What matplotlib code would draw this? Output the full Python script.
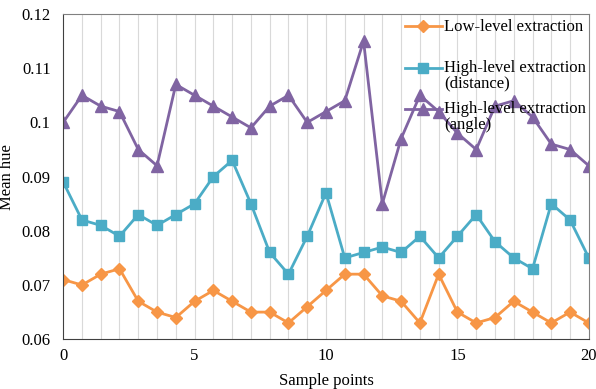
import numpy as np
import matplotlib
matplotlib.use('Agg')
import matplotlib.pyplot as plt
from matplotlib.ticker import FuncFormatter
from matplotlib.legend_handler import HandlerLine2D

plt.rcParams['font.family'] = ['Liberation Serif', 'DejaVu Serif']

# Mean hue per sample point (29 samples spread over 0..20)
low_level = [0.071, 0.070, 0.072, 0.073, 0.067, 0.065, 0.064, 0.067, 0.069, 0.067,
             0.065, 0.065, 0.063, 0.066, 0.069, 0.072, 0.072, 0.068, 0.067, 0.063,
             0.072, 0.065, 0.063, 0.064, 0.067, 0.065, 0.063, 0.065, 0.063]
high_distance = [0.089, 0.082, 0.081, 0.079, 0.083, 0.081, 0.083, 0.085, 0.090, 0.093,
                 0.085, 0.076, 0.072, 0.079, 0.087, 0.075, 0.076, 0.077, 0.076, 0.079,
                 0.075, 0.079, 0.083, 0.078, 0.075, 0.073, 0.085, 0.082, 0.075]
high_angle = [0.100, 0.105, 0.103, 0.102, 0.095, 0.092, 0.107, 0.105, 0.103, 0.101,
              0.099, 0.103, 0.105, 0.100, 0.102, 0.104, 0.115, 0.085, 0.097, 0.105,
              0.102, 0.098, 0.095, 0.103, 0.104, 0.101, 0.096, 0.095, 0.092]
# blank second line keeps every legend entry the same height, like Excel does
labels = ['Low-level extraction\n ', 'High-level extraction\n(distance)',
          'High-level extraction\n(angle)']

x = np.linspace(0, 20, len(low_level))


class FirstLineHandler(HandlerLine2D):
    # put the legend line next to the first text line instead of the middle
    def create_artists(self, legend, orig_handle, xdescent, ydescent, width,
                       height, fontsize, trans):
        artists = super().create_artists(legend, orig_handle, xdescent, ydescent,
                                         width, height, fontsize, trans)
        for a in artists:
            a.set_ydata(np.asarray(a.get_ydata()) + 0.5 * fontsize)
        return artists


fig = plt.figure(figsize=(5.96, 3.89), dpi=100)
ax = fig.add_axes([0.106, 0.128, 0.882, 0.836])

ax.plot(x, low_level, color='#F79646', marker='D', markersize=6, linewidth=2, label=labels[0])
ax.plot(x, high_distance, color='#4BACC6', marker='s', markersize=7, linewidth=2, label=labels[1])
ax.plot(x, high_angle, color='#8064A2', marker='^', markersize=8, linewidth=2, label=labels[2])

for xi in x[1:-1]:
    ax.axvline(xi, color='#D9D9D9', linewidth=0.8, zorder=0)

ax.set_xlim(0, 20)
ax.set_ylim(0.06, 0.12)
ax.set_xticks([0, 5, 10, 15, 20])
ax.set_yticks(np.arange(0.06, 0.1201, 0.01))
ax.yaxis.set_major_formatter(FuncFormatter(lambda v, p: '%g' % round(v, 2)))
ax.tick_params(length=0, labelsize=12, colors='#000000')
ax.tick_params(axis='y', pad=9)
ax.tick_params(axis='x', pad=6)

ax.spines['left'].set_color('#404040')
ax.spines['bottom'].set_color('#404040')
ax.spines['top'].set_color('#808080')
ax.spines['right'].set_color('#808080')

ax.set_xlabel('Sample points', fontsize=12, labelpad=7)
ax.set_ylabel('Mean hue', fontsize=12, labelpad=5)

leg = ax.legend(loc='upper left', bbox_to_anchor=(0.644, 0.996), frameon=False, fontsize=12,
                handlelength=2.2, handletextpad=0.15, labelspacing=0.55,
                borderaxespad=0.0, borderpad=0.2,
                handler_map={matplotlib.lines.Line2D: FirstLineHandler()})
for t in leg.get_texts():
    t.set_linespacing(1.0)

fig.savefig('out.png', dpi=100)
